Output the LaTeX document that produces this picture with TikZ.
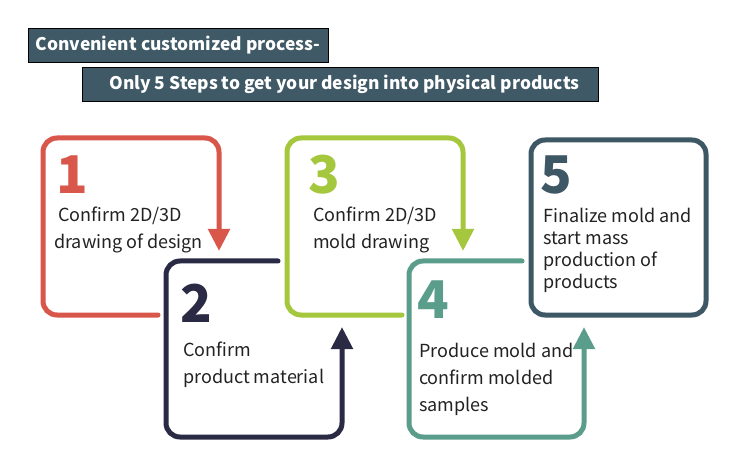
\documentclass[tikz,border=0pt]{standalone}
\usepackage{fontspec}
\setmainfont{Noto Sans CJK SC}
\usetikzlibrary{arrows.meta}
\definecolor{cred}{HTML}{D9564A}
\definecolor{cnavy}{HTML}{2A2A44}
\definecolor{cgreen}{HTML}{A5C73D}
\definecolor{cteal}{HTML}{5A9D8B}
\definecolor{cslate}{HTML}{3E5765}
\definecolor{chead}{HTML}{3F5966}
\definecolor{ctext}{HTML}{222222}
\begin{document}
\begin{tikzpicture}[x=1pt,y=-1pt,
  stepline/.style={line width=5pt, rounded corners=14pt, line cap=round},
  steparrow/.style={stepline, -{Triangle[width=21pt,length=22pt]}},
  headbox/.style={fill=chead, draw=black, line width=0.8pt, text=white,
     font=\fontsize{17.4}{20}\selectfont\bfseries, minimum height=34pt, inner sep=0pt},
  numlabel/.style={anchor=west, inner sep=0pt, font=\fontsize{52}{52}\selectfont\bfseries},
  steptext/.style={anchor=west, inner sep=0pt, align=left, text=ctext,
     font=\fontsize{18}{27}\selectfont}]
\fill[white] (0,0) rectangle (750,473);
\useasboundingbox (0,0) rectangle (750,473);
% header
\node[headbox, minimum width=300pt] (h1) at (178,45) {Convenient customized process-};
\node[headbox, minimum width=516pt] (h2) at (340,84) {\hspace{9pt}Only 5 Steps to get your design into physical products};
% step 1
\coordinate (a1) at (158,315);
\coordinate (b1) at (43,315);
\coordinate (c1) at (43,138);
\coordinate (d1) at (219,138);
\coordinate (e1) at (219,251);
\draw[steparrow, cred] (a1) -- (b1) -- (c1) -- (d1) -- (e1);
% step 2
\coordinate (a2) at (278,261);
\coordinate (b2) at (166,261);
\coordinate (c2) at (166,437);
\coordinate (d2) at (342,437);
\coordinate (e2) at (342,327);
\draw[steparrow, cnavy] (a2) -- (b2) -- (c2) -- (d2) -- (e2);
% step 3
\coordinate (a3) at (402,315);
\coordinate (b3) at (287,315);
\coordinate (c3) at (287,138);
\coordinate (d3) at (463,138);
\coordinate (e3) at (463,251);
\draw[steparrow, cgreen] (a3) -- (b3) -- (c3) -- (d3) -- (e3);
% step 4
\coordinate (a4) at (522,261);
\coordinate (b4) at (409,261);
\coordinate (c4) at (409,437);
\coordinate (d4) at (584,437);
\coordinate (e4) at (584,327);
\draw[steparrow, cteal] (a4) -- (b4) -- (c4) -- (d4) -- (e4);
% step 5
\coordinate (p5) at (531,140);
\coordinate (q5) at (706,315);
\draw[stepline, cslate] (p5) rectangle (q5);
% numbers
\node[numlabel, text=cred] (n1) at (56,175) {1};
\node[numlabel, text=cnavy] (n2) at (180,303) {2};
\node[numlabel, text=cgreen] (n3) at (308,175) {3};
\node[numlabel, text=cteal] (n4) at (417,300) {4};
\node[numlabel, text=cslate] (n5) at (540,175) {5};
% texts
\node[steptext] (t1) at (54,230) {\hspace{4pt}Confirm 2D/3D\\drawing of design};
\node[steptext] (t2) at (183,365) {Confirm\\product material};
\node[steptext] (t3) at (313,230) {Confirm 2D/3D\\mold drawing};
\node[steptext] (t4) at (419,379) {Produce mold and\\confirm molded\\samples};
\node[steptext, font=\fontsize{18}{22}\selectfont] (t5) at (543,250) {Finalize mold and\\start mass\\production of\\products};
\end{tikzpicture}
\end{document}
